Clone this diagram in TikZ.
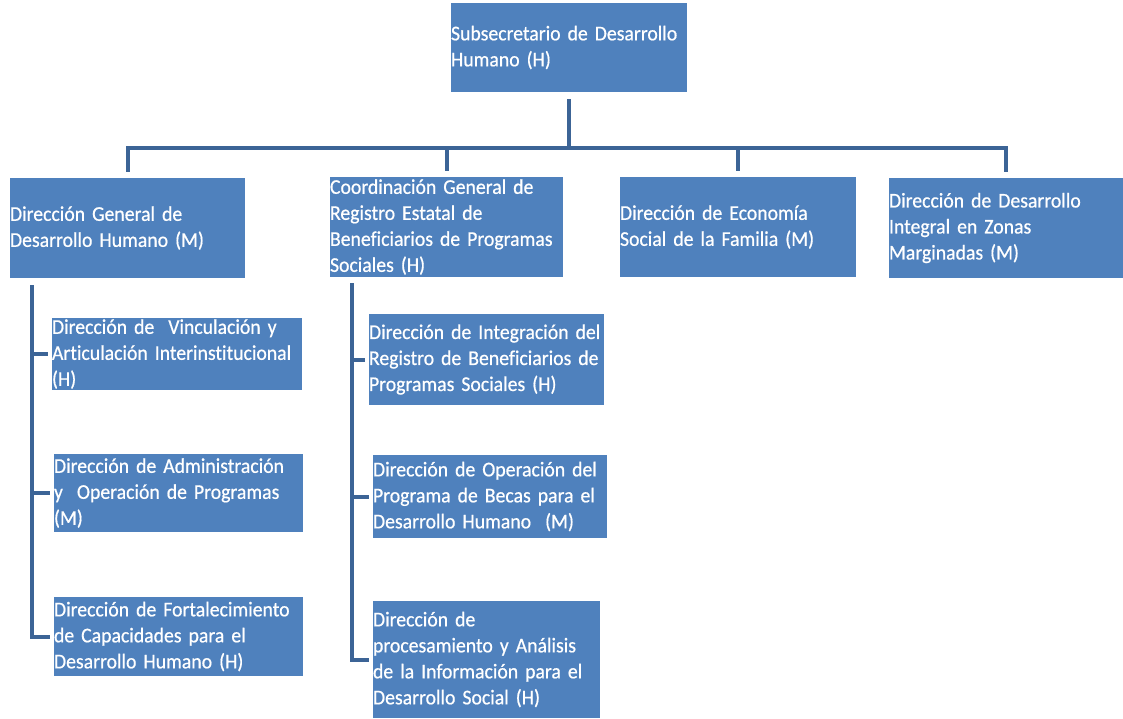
\documentclass[tikz,border=0pt]{standalone}
\usepackage{fontspec}
\setmainfont{Carlito}[FakeStretch=0.94, FakeBold=0.6, Ligatures=NoCommon]
\usepackage{tikz}
\usetikzlibrary{positioning, calc}
\definecolor{boxblue}{RGB}{79,129,189}
\definecolor{lineblue}{RGB}{60,100,150}
\newcommand{\orgfont}{\fontsize{21}{26}\selectfont\spaceskip=3pt plus 1pt\relax}

\begin{document}
\begin{tikzpicture}[
    x=1pt, y=-1pt,
    unit/.style 2 args={fill=boxblue, text=white, inner xsep=0pt, inner ysep=0pt, minimum width=#1, text width=#1, minimum height=#2, align=left, font=\orgfont},
    conn/.style={draw=lineblue, line width=4pt}
]
    \useasboundingbox (0,0) rectangle (1123,718);

    % Top
    \node[unit={236pt}{89pt}] (sub) at (569,47.5) {Subsecretario de Desarrollo\\Humano (H)};

    % First level
    \node[unit={235pt}{100pt}] (dgdh) at (127.5,228) {Dirección General de\\Desarrollo Humano (M)};
    \node[unit={233pt}{100pt}] (coord) at (446.5,227) {Coordinación General de\\Registro Estatal de\\Beneficiarios de Programas\\Sociales (H)};
    \node[unit={236pt}{100pt}] (econ) at (738,227) {Dirección de Economía\\Social de la Familia (M)};
    \node[unit={234pt}{100pt}] (zonas) at (1006,228) {Dirección de Desarrollo\\Integral en Zonas\\Marginadas (M)};

    % Under Direccion General
    \node[unit={250pt}{72pt}] (vinc) at (177,354) {Dirección de~ Vinculación y\\Articulación Interinstitucional\\(H)};
    \node[unit={249pt}{78pt}] (admin) at (178.5,493) {Dirección de Administración\\y~ Operación de Programas\\(M)};
    \node[unit={249pt}{79pt}] (fort) at (178.5,636.5) {Dirección de Fortalecimiento\\de Capacidades para el\\Desarrollo Humano (H)};

    % Under Coordinacion
    \node[unit={235pt}{91pt}] (integ) at (486.5,359.5) {Dirección de Integración del\\Registro de Beneficiarios de\\Programas Sociales (H)};
    \node[unit={234pt}{83pt}] (becas) at (490,496.5) {Dirección de Operación del\\Programa de Becas para el\\Desarrollo Humano~ (M)};
    \node[unit={227pt}{117pt}] (proc) at (486.5,659.5) {Dirección de\\procesamiento y Análisis\\de la Información para el\\Desarrollo Social (H)};

    % Connections
    \draw[conn] ([yshift=-7pt]sub.south) -- ++(0,49) -| ([yshift=6pt]dgdh.north);
    \draw[conn] ([yshift=-7pt]sub.south) -- ++(0,49) -| ([yshift=6pt]coord.north);
    \draw[conn] ([yshift=-7pt]sub.south) -- ++(0,49) -| ([yshift=6pt]econ.north);
    \draw[conn] ([yshift=-7pt]sub.south) -- ++(0,49) -| ([yshift=6pt]zonas.north);
    \draw[conn] ([xshift=22pt,yshift=-7pt]dgdh.south west) |- ([xshift=-4pt]vinc.west);
    \draw[conn] ([xshift=22pt,yshift=-7pt]dgdh.south west) |- ([xshift=-4pt]admin.west);
    \draw[conn] ([xshift=22pt,yshift=-7pt]dgdh.south west) |- ([xshift=-4pt]fort.west);
    \draw[conn] ([xshift=22pt,yshift=-6pt]coord.south west) |- ([xshift=-4pt]integ.west);
    \draw[conn] ([xshift=22pt,yshift=-6pt]coord.south west) |- ([xshift=-4pt]becas.west);
    \draw[conn] ([xshift=22pt,yshift=-6pt]coord.south west) |- ([xshift=-4pt]proc.west);
\end{tikzpicture}
\end{document}
